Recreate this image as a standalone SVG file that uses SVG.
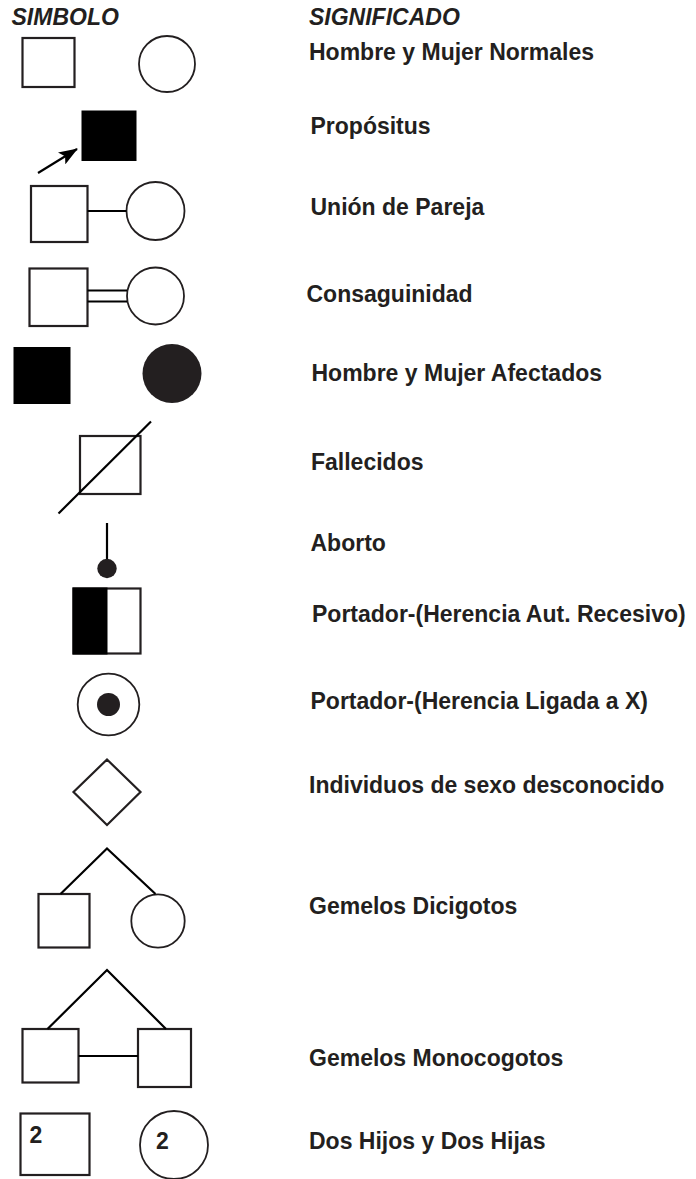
<svg xmlns="http://www.w3.org/2000/svg" width="696" height="1179" viewBox="0 0 696 1179">
<style>
.o{fill:#fff;stroke:#231f20;stroke-width:2.2}
.c{fill:#fff;stroke:#231f20;stroke-width:1.8}
.f{fill:#000;stroke:none}
.fc{fill:#231f20;stroke:none}
.l{fill:none;stroke:#000;stroke-width:2.2}
.t{font-family:"Liberation Sans",Arial,sans-serif;font-weight:bold;font-size:23px;fill:#231f20}
.h{font-style:italic}
</style>
<defs>
<marker id="ah" markerWidth="19" markerHeight="14" refX="18" refY="7" orient="auto" markerUnits="userSpaceOnUse" viewBox="0 0 19 14">
<path d="M0,0 L19,7 L0,14 L4,7 z" fill="#000"/>
</marker>
</defs>
<rect width="696" height="1179" fill="#fff"/>
<g id="headers">
<text class="t h" x="11.5" y="25">SIMBOLO</text>
<text class="t h" x="309" y="25">SIGNIFICADO</text>
</g>
<g id="normales">
<rect class="o" x="22.5" y="38" width="52" height="49"/>
<circle class="c" cx="167" cy="64" r="28"/>
<text class="t" x="309" y="60">Hombre y Mujer Normales</text>
</g>
<g id="propositus">
<rect class="f" x="81.5" y="110.5" width="55" height="50.5"/>
<text class="t" x="310.5" y="134">Propósitus</text>
</g>
<g id="union">
<rect class="o" x="31" y="186" width="56.5" height="56"/>
<circle class="c" cx="155.5" cy="211" r="29"/>
<text class="t" x="310.5" y="215">Unión de Pareja</text>
</g>
<g id="consanguinidad">
<rect class="o" x="29.5" y="268.5" width="58" height="57.5"/>
<circle class="c" cx="155.5" cy="296" r="28.5"/>
<text class="t" x="306.5" y="301.5">Consaguinidad</text>
</g>
<g id="afectados">
<rect class="f" x="13.5" y="347" width="57" height="57"/>
<circle class="fc" cx="172" cy="373.5" r="29.5"/>
<text class="t" x="311.5" y="381">Hombre y Mujer Afectados</text>
</g>
<g id="fallecidos">
<rect class="o" x="80" y="436" width="60.5" height="58"/>
<text class="t" x="311" y="470">Fallecidos</text>
</g>
<g id="aborto">
<line class="l" x1="107" y1="523" x2="107" y2="562"/>
<circle class="fc" cx="107" cy="568.5" r="9.7"/>
<text class="t" x="310.5" y="550.5">Aborto</text>
</g>
<g id="portador-ar">
<rect class="o" x="73.5" y="588.5" width="67" height="65"/>
<rect class="f" x="72.5" y="587.5" width="35" height="67"/>
<text class="t" x="312" y="622">Portador-(Herencia Aut. Recesivo)</text>
</g>
<g id="portador-x">
<circle class="c" cx="108.5" cy="704.5" r="30.8"/>
<circle class="fc" cx="108.5" cy="704.5" r="11.5"/>
<text class="t" x="310.5" y="709">Portador-(Herencia Ligada a X)</text>
</g>
<g id="desconocido">
<polygon class="o" points="107,759.5 140.5,792 107,825 73.5,792"/>
<text class="t" x="309" y="793">Individuos de sexo desconocido</text>
</g>
<g id="dicigotos">
<rect class="o" x="38.5" y="894" width="51" height="53.5"/>
<circle class="c" cx="158" cy="921" r="26.7"/>
<text class="t" x="309" y="914">Gemelos Dicigotos</text>
</g>
<g id="monocigotos">
<rect class="o" x="22.5" y="1029" width="56" height="53.5"/>
<rect class="o" x="138" y="1029" width="53" height="58"/>
<text class="t" x="309" y="1066">Gemelos Monocogotos</text>
</g>
<g id="dos-hijos">
<rect class="o" x="20.5" y="1113.5" width="69" height="61.5"/>
<text class="t" x="29.5" y="1143">2</text>
<circle class="c" cx="174" cy="1145" r="34"/>
<text class="t" x="156" y="1149">2</text>
<text class="t" x="309" y="1148.5">Dos Hijos y Dos Hijas</text>
</g>
<g id="connectors">
<line class="l" x1="38" y1="173" x2="77" y2="149" marker-end="url(#ah)"/>
<line class="l" x1="87.5" y1="211" x2="126.5" y2="211"/>
<line class="l" x1="87.5" y1="290.5" x2="127" y2="290.5"/>
<line class="l" x1="87.5" y1="301.5" x2="127" y2="301.5"/>
<line class="l" x1="58.5" y1="513.5" x2="151" y2="421.5"/>
<polyline class="l" points="60.5,894 107,848.5 155.5,894"/>
<polyline class="l" points="47.5,1029 107,970 166,1029"/>
<line class="l" x1="78.5" y1="1056" x2="138" y2="1056"/>
</g>
</svg>
